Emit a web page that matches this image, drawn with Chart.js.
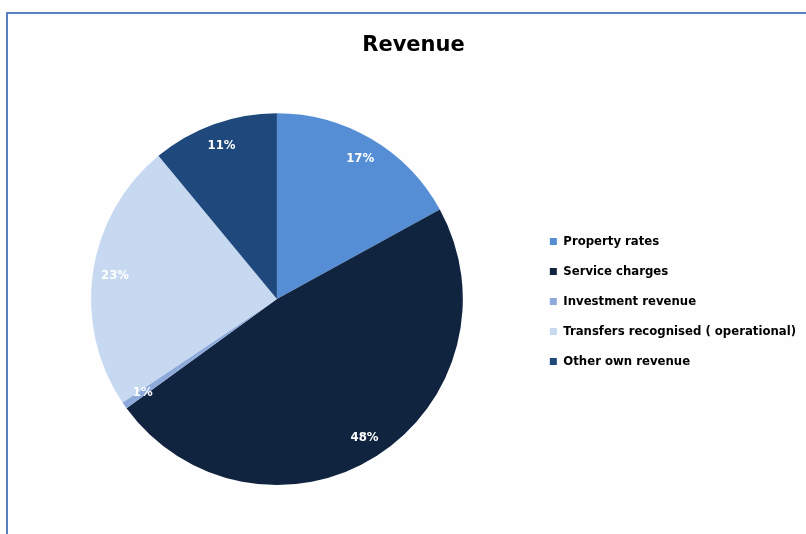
<!DOCTYPE html>
<html>
<head>
<meta charset="utf-8">
<script src="https://cdn.jsdelivr.net/npm/chart.js@4.4.1/dist/chart.umd.min.js"></script>
<style>
  html, body { margin: 0; padding: 0; background: #fff; overflow: hidden; }
  #frame {
    position: absolute; left: 6px; top: 12px; width: 840px; height: 560px;
    border: 2px solid #5b7fbf; background: #fefefe;
  }
  #wrap { position: absolute; left: 0; top: 0; width: 806px; height: 534px; }
</style>
</head>
<body>
<div id="frame"></div>
<div id="wrap"><canvas id="revenue"></canvas></div>
<script>
const categories = [
  "Property rates",
  "Service charges",
  "Investment revenue",
  "Transfers recognised ( operational)",
  "Other own revenue"
];
const shares = [17, 48, 0.6, 23.4, 11];
const sliceColors = ["#558ed5", "#10243f", "#8eaadb", "#c6d9f1", "#1f497d"];

// draws the percentage labels inside each slice, near the outer edge
const sliceLabels = {
  id: "sliceLabels",
  afterDatasetsDraw(chart) {
    const ctx = chart.ctx;
    const meta = chart.getDatasetMeta(0);
    const total = shares.reduce((a, b) => a + b, 0);
    ctx.save();
    ctx.fillStyle = "#ffffff";
    ctx.font = "bold 13px 'DejaVu Sans Condensed', 'DejaVu Sans'";
    ctx.textAlign = "center";
    ctx.textBaseline = "middle";
    meta.data.forEach((arc, i) => {
      const p = arc.getProps(["x", "y", "startAngle", "endAngle", "outerRadius"], true);
      const mid = (p.startAngle + p.endAngle) / 2;
      const r = p.outerRadius * 0.88;
      const pct = Math.round(shares[i] / total * 100) + "%";
      ctx.fillText(pct, p.x + Math.cos(mid) * r, p.y + Math.sin(mid) * r);
    });
    ctx.restore();
  }
};

new Chart(document.getElementById("revenue"), {
  type: "pie",
  data: {
    labels: categories,
    datasets: [{
      data: shares,
      backgroundColor: sliceColors,
      borderWidth: 0
    }]
  },
  options: {
    responsive: true,
    maintainAspectRatio: false,
    animation: false,
    layout: { padding: { left: 21, right: 0, top: 0, bottom: 49 } },
    plugins: {
      title: {
        display: true,
        text: "Revenue",
        color: "#000",
        font: { family: "'DejaVu Sans'", size: 21, weight: "bold" },
        padding: { top: 33, bottom: 55 }
      },
      legend: {
        position: "right",
        align: "center",
        title: {
          display: true,
          text: " ",
          font: { size: 10 },
          padding: { top: 53, bottom: 53 }
        },
        labels: {
          boxWidth: 7,
          boxHeight: 7,
          padding: 17,
          color: "#000",
          font: { family: "'DejaVu Sans Condensed', 'DejaVu Sans'", size: 13, weight: "bold" }
        }
      },
      tooltip: { enabled: false }
    }
  },
  plugins: [sliceLabels]
});
</script>
</body>
</html>
